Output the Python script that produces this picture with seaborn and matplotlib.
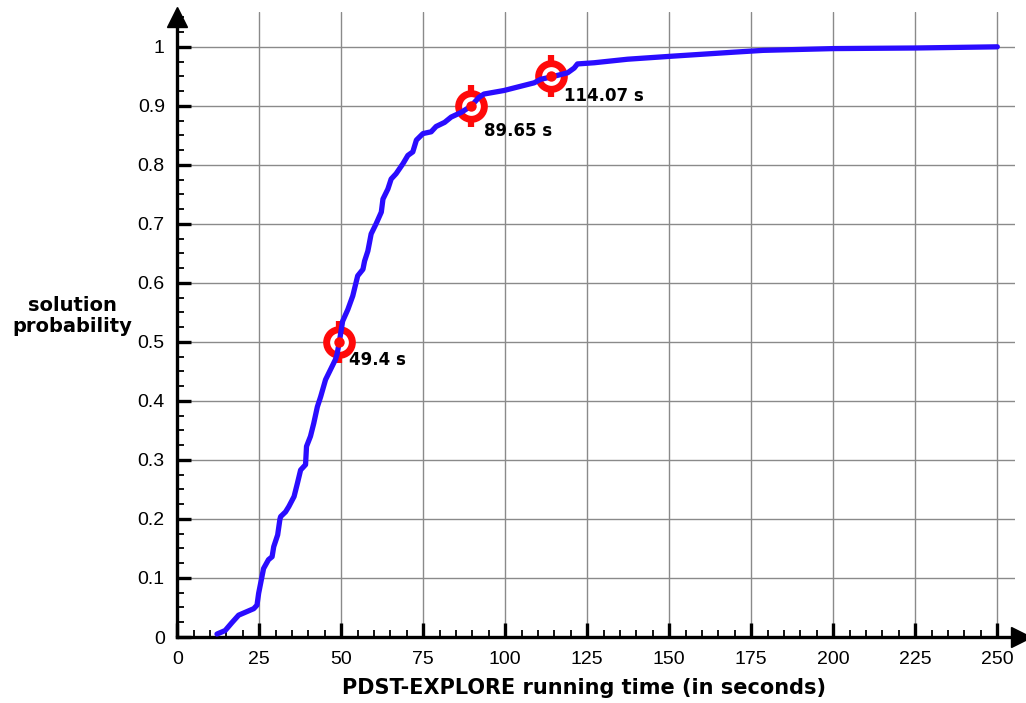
import numpy as np
import pandas as pd
import matplotlib
matplotlib.use("Agg")
import matplotlib.pyplot as plt
import seaborn as sns
from matplotlib.path import Path
from matplotlib.ticker import MultipleLocator, FuncFormatter

# running time (s) vs. cumulative solution probability
run_time = [12.1, 14.6, 16.6, 18.7, 23.3, 24.3, 24.8, 25.8, 26.3, 27.8, 28.9, 29.4,
            30.6, 31.3, 31.5, 33.0, 34.0, 35.6, 36.6, 37.6, 39.1, 39.4, 40.6, 41.6,
            42.7, 43.7, 45.2, 46.7, 48.2, 48.7, 49.4, 50.4, 52.0, 53.5, 55.0, 56.6,
            57.1, 58.1, 59.1, 60.6, 62.2, 62.7, 64.2, 65.2, 66.7, 68.8, 70.3, 71.8,
            72.9, 74.9, 77.4, 78.9, 81.5, 83.5, 86.6, 89.65, 91.9, 93.5, 99.6, 108.8,
            110.8, 114.07, 119.0, 121.0, 122.0, 127.1, 137.3, 150.5, 169.9, 178.6,
            200.0, 225.0, 250.0]
probability = [0.005, 0.011, 0.024, 0.037, 0.048, 0.054, 0.074, 0.102, 0.116, 0.131, 0.136, 0.153,
               0.173, 0.200, 0.204, 0.212, 0.221, 0.238, 0.260, 0.283, 0.292, 0.323, 0.340, 0.362,
               0.390, 0.407, 0.436, 0.453, 0.470, 0.479, 0.500, 0.535, 0.555, 0.578, 0.612, 0.623,
               0.637, 0.654, 0.683, 0.700, 0.720, 0.742, 0.759, 0.776, 0.785, 0.802, 0.816, 0.822,
               0.842, 0.853, 0.856, 0.865, 0.872, 0.881, 0.889, 0.900, 0.914, 0.920, 0.926, 0.939,
               0.945, 0.949, 0.956, 0.964, 0.971, 0.973, 0.979, 0.984, 0.991, 0.994,
               0.997, 0.998, 1.000]

# highlighted quantiles
mark_time = [49.4, 89.65, 114.07]
mark_prob = [0.5, 0.9, 0.95]
mark_text = ["49.4 s", "89.65 s", "114.07 s"]
text_offset = [(7, -13), (9, -18), (9, -14)]  # points

x_ticks = [0, 25, 50, 75, 100, 125, 150, 175, 200, 225, 250]

df = pd.DataFrame({"time": run_time, "prob": probability})

sns.set_style("white")
plt.rcParams["font.family"] = ["Liberation Sans", "DejaVu Sans"]
plt.rcParams["text.color"] = "black"

fig = plt.figure(figsize=(10.26, 7.03), dpi=100)
ax = fig.add_axes([177.3 / 1026, 66 / 703, (1015 - 177.3) / 1026, (637 - 12) / 703])

ax.set_xlim(0, 255.4)
ax.set_ylim(0, 1.059)

ax.grid(True, which="major", color="#8a8a8a", lw=1.0)
ax.set_axisbelow(True)

sns.lineplot(data=df, x="time", y="prob", sort=False, estimator=None,
             color="#2a0cff", lw=3.8, ax=ax, zorder=3)

# crosshair-style target markers (ring under the curve, dot on top)
stubs = Path([(0, 1), (0, 0.68), (0, -0.68), (0, -1)],
             [Path.MOVETO, Path.LINETO, Path.MOVETO, Path.LINETO])
red = "#ff0a0a"
ax.plot(mark_time, mark_prob, ls="none", marker=stubs, markersize=30,
        markeredgewidth=4.5, markeredgecolor=red, zorder=2.5)
ax.plot(mark_time, mark_prob, ls="none", marker="o", markersize=18.5,
        markerfacecolor="white", markeredgewidth=5, markeredgecolor=red, zorder=2.5)
ax.plot(mark_time, mark_prob, ls="none", marker="o", markersize=7.5,
        markerfacecolor=red, markeredgewidth=0, zorder=5)
for t, p, s, off in zip(mark_time, mark_prob, mark_text, text_offset):
    ax.annotate(s, (t, p), xytext=off, textcoords="offset points",
                ha="left", va="center", fontsize=12, fontweight="bold",
                family="DejaVu Sans", color="black", zorder=6)

# axes with arrow heads
for side in ["top", "right"]:
    ax.spines[side].set_visible(False)
for side in ["left", "bottom"]:
    ax.spines[side].set_linewidth(2.4)
    ax.spines[side].set_color("black")
ax.plot(257.3, 0, ">k", markersize=14, clip_on=False, zorder=7)
ax.plot(0, 1.050, "^k", markersize=14, clip_on=False, zorder=7)

ax.set_xticks(x_ticks)
ax.xaxis.set_minor_locator(MultipleLocator(5))
ax.yaxis.set_major_locator(MultipleLocator(0.1))
ax.yaxis.set_minor_locator(MultipleLocator(0.025))
ax.set_yticks(np.arange(0, 1.01, 0.1))
ax.yaxis.set_major_formatter(FuncFormatter(lambda v, _: f"{v:.1f}".rstrip("0").rstrip(".") if v else "0"))
ax.tick_params(which="major", direction="in", length=10, width=2.4, labelsize=14,
               colors="black")
ax.tick_params(which="minor", direction="in", length=5, width=1.3, colors="black")
ax.tick_params(axis="x", which="both", bottom=True, pad=10)
ax.tick_params(axis="y", which="both", left=True, pad=9)
ax.set_xlabel("")
ax.set_ylabel("")

fig.text(584.5 / 1026, 1 - 688 / 703, "PDST-EXPLORE running time (in seconds)",
         ha="center", va="center", fontsize=15, fontweight="bold", family="DejaVu Sans",
         color="black")
fig.text(72 / 1026, 1 - 316 / 703, "solution\nprobability", ha="center", va="center",
         fontsize=14, fontweight="bold", family="DejaVu Sans", linespacing=1.1,
         color="black")

fig.savefig("out.png", dpi=100)
